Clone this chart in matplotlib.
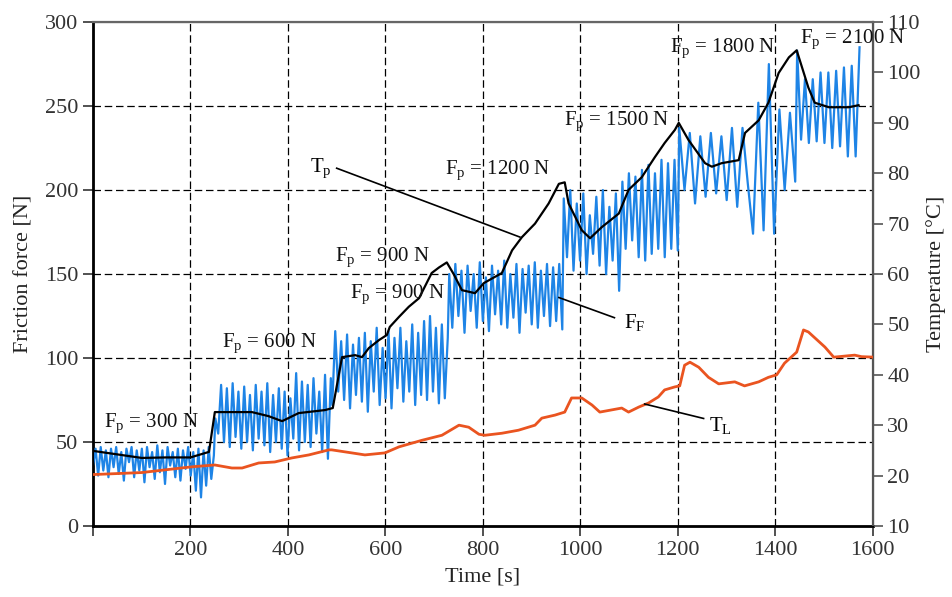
import numpy as np
import matplotlib.pyplot as plt

plt.rcParams['font.family'] = ['Liberation Serif', 'DejaVu Serif']
plt.rcParams['mathtext.fontset'] = 'custom'
plt.rcParams['mathtext.rm'] = 'Liberation Serif'
plt.rcParams['mathtext.it'] = 'Liberation Serif:italic'

# friction force F_F [N], zigzag vertices per load step (start s, end s, values)
ff_seg_t = [(0, 248), (251, 488), (491, 728), (731, 963), (966, 1200), (1203, 1441), (1445, 1573)]
ff_seg_v = [
    [36, 46, 30, 47, 33, 45, 29, 46, 35, 47, 31, 44, 27, 46, 38, 47, 29, 45, 33, 46, 26, 47, 35, 44,
     28, 48, 32, 45, 25, 47, 36, 44, 29, 46, 27, 45, 34, 47, 30, 44, 21, 46, 17, 45, 24, 47, 28, 42],
    [64, 55, 84, 50, 82, 47, 85, 53, 80, 46, 83, 50, 78, 45, 84, 52, 80, 48, 85, 44, 78, 50, 82, 46,
     80, 42, 76, 52, 91, 45, 86, 50, 84, 47, 88, 55, 80, 44, 90, 40, 88],
    [72, 116, 80, 110, 75, 114, 70, 108, 78, 112, 74, 115, 68, 110, 80, 118, 72, 106, 76, 116, 70,
     112, 82, 118, 74, 110, 80, 120, 72, 115, 78, 122, 75, 125, 80, 118, 73, 120, 76, 112],
    [150, 118, 156, 125, 152, 115, 155, 128, 150, 118, 157, 122, 148, 116, 155, 126, 152, 120, 158,
     118, 150, 124, 156, 115, 153, 127, 155, 120, 157, 118, 152, 125, 156, 119, 154, 122, 156, 117],
    [195, 160, 200, 152, 192, 158, 198, 150, 185, 162, 196, 155, 200, 150, 190, 158, 198, 140, 205,
     165, 210, 170, 208, 160, 212, 158, 215, 162, 210, 165, 218, 160, 216, 165, 218, 164],
    [237, 200, 234, 192, 232, 196, 234, 198, 232, 194, 237, 190, 237, 204, 174, 252, 176, 275, 174,
     248, 200, 246, 205],
    [283, 230, 266, 228, 266, 229, 270, 228, 270, 225, 271, 226, 273, 220, 274, 220, 285],
]

# pin temperature T_p [°C]
tp_t = [0, 50, 100, 150, 200, 238, 250, 290, 326, 360, 388, 422, 476, 492, 511, 538, 552, 566, 587,
        603, 609, 628, 648, 669, 695, 710, 726, 740, 757, 784, 802, 839, 860, 880, 907, 935, 956, 968,
        976, 1003, 1020, 1044, 1079, 1099, 1126, 1153, 1173, 1194, 1202, 1222, 1256, 1270, 1290, 1325,
        1338, 1366, 1386, 1407, 1428, 1444, 1468, 1481, 1510, 1551, 1571]
tp_v = [24.9, 24.2, 23.5, 23.6, 23.6, 24.7, 32.6, 32.6, 32.6, 31.8, 30.8, 32.4, 33.0, 33.4, 43.5,
        43.9, 43.5, 45.3, 46.9, 47.9, 49.5, 51.5, 53.5, 55.2, 60.2, 61.3, 62.3, 60.0, 56.8, 56.2, 58.2,
        60.2, 64.7, 67.3, 70.0, 74.0, 77.9, 78.2, 74.0, 68.7, 67.1, 69.3, 72.0, 76.7, 79.2, 83.2, 86.0,
        88.6, 90.0, 86.6, 82.0, 81.3, 82.0, 82.6, 88.0, 90.5, 94.0, 99.9, 103.0, 104.4, 97.0, 94.0,
        93.1, 93.1, 93.5]

# lubricant temperature T_L [°C]
tl_t = [0, 100, 190, 210, 250, 285, 306, 340, 373, 408, 443, 484, 490, 531, 558, 599, 628, 675, 716,
        751, 771, 792, 804, 839, 873, 907, 921, 948, 968, 982, 1003, 1024, 1040, 1085, 1099, 1120,
        1140, 1160, 1173, 1194, 1204, 1214, 1225, 1243, 1263, 1284, 1317, 1337, 1366, 1386, 1403,
        1419, 1444, 1458, 1468, 1502, 1520, 1563, 1577, 1604]
tl_v = [20.2, 20.6, 21.6, 21.8, 22.1, 21.5, 21.5, 22.5, 22.7, 23.5, 24.1, 25.1, 25.1, 24.5, 24.1,
        24.5, 25.7, 27.0, 28.0, 30.0, 29.6, 28.2, 28.0, 28.4, 29.0, 30.0, 31.4, 32.0, 32.6, 35.4, 35.4,
        34.0, 32.6, 33.4, 32.6, 33.6, 34.4, 35.6, 37.0, 37.6, 37.8, 41.9, 42.5, 41.5, 39.5, 38.2, 38.6,
        37.8, 38.6, 39.5, 40.0, 42.3, 44.5, 48.9, 48.5, 45.5, 43.5, 43.9, 43.6, 43.5]

load_labels = ['300', '600', '900', '900', '1200', '1500', '1800', '2100']
load_pos = [(22, 61), (265, 109), (496, 160), (527, 138), (722, 212), (966, 241), (1184, 284.5), (1450, 290)]

t_ff = np.concatenate([np.linspace(a, b, len(v)) for (a, b), v in zip(ff_seg_t, ff_seg_v)])
v_ff = np.concatenate([np.array(v, float) for v in ff_seg_v])

fig = plt.figure(figsize=(9.52, 5.97), dpi=100)
ax = fig.add_axes([0.0977, 0.119, 0.819, 0.844])
ax2 = ax.twinx()

ax.plot(t_ff, v_ff, color='#1e84e6', lw=1.6, zorder=3)
ax2.plot(tp_t, tp_v, color='black', lw=1.6, zorder=4)
ax2.plot(tl_t, tl_v, color='#ea5420', lw=2.0, zorder=4)

ax.set_xlim(0, 1600)
ax.set_ylim(0, 300)
ax2.set_ylim(10, 110)

ax.set_xticks(range(0, 1601, 200))
ax.set_xticklabels([''] + [str(x) for x in range(200, 1601, 200)])
ax.set_yticks(range(0, 301, 50))
ax2.set_yticks(range(10, 111, 10))

for x in range(200, 1600, 200):
    ax.axvline(x, color='black', lw=0.9, ls=(0, (6, 3)), zorder=1)
for y in range(50, 300, 50):
    ax.axhline(y, color='black', lw=0.9, ls=(0, (6, 3)), zorder=1)

ax.tick_params(labelsize=16, length=7, width=1.2, colors='#333333', labelcolor='#333333')
ax2.tick_params(labelsize=16, length=7, width=1.2, colors='#555555', labelcolor='#333333')
ax.spines['left'].set_linewidth(2)
ax.spines['bottom'].set_linewidth(2)
ax2.spines['right'].set_linewidth(1.6)
ax2.spines['right'].set_color('#555555')
ax2.spines['top'].set_linewidth(1.6)
ax2.spines['top'].set_color('#666666')

ax.set_xlabel('Time [s]', fontsize=16, color='#222222', labelpad=6)
ax.set_ylabel('Friction force [N]', fontsize=16, color='#222222', labelpad=8)
ax2.set_ylabel('Temperature [°C]', fontsize=16, color='#222222', labelpad=4)

tr = ax.transData
for lab, (x, y) in zip(load_labels, load_pos):
    ax2.text(x, y, r'F$_\mathrm{p}$ = ' + lab + ' N', transform=tr, fontsize=15,
             va='center', ha='left', color='#111111', zorder=6)

ax2.text(445, 213, r'T$_\mathrm{p}$', transform=tr, fontsize=15, va='center', zorder=6)
ax2.plot([500, 876], [213, 172], transform=tr, color='black', lw=1.2, zorder=5)
ax2.text(1090, 121, r'F$_\mathrm{F}$', transform=tr, fontsize=15, va='center', zorder=6)
ax2.plot([956, 1070], [136, 124], transform=tr, color='black', lw=1.2, zorder=5)
ax2.text(1264, 60, r'T$_\mathrm{L}$', transform=tr, fontsize=15, va='center', zorder=6)
ax2.plot([1132, 1253], [72.6, 64], transform=tr, color='black', lw=1.2, zorder=5)

fig.savefig('out.png', dpi=100)
